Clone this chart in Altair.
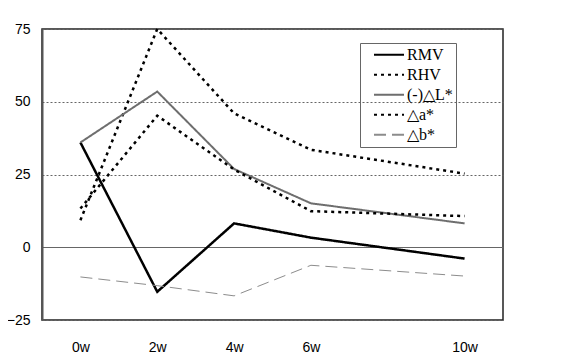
import altair as alt
import pandas as pd

weeks = [0, 2, 4, 6, 10]
week_labels = ["0w", "2w", "4w", "6w", "10w"]
series_names = ["RMV", "RHV", "(-)△L*", "△a*", "△b*"]
rmv = [36, -15.3, 8.2, 3.3, -3.9]
rhv = [9.3, 75, 46, 33.5, 25.3]
dl = [36, 53.5, 26.9, 15.1, 8.2]
da = [13.3, 45.2, 26.7, 12.4, 10.7]
db = [-10.2, -13.2, -16.7, -6.2, -9.9]
y_ticks = [-25, 0, 25, 50, 75]

colors = ["#000000", "#000000", "#6e6e6e", "#000000", "#8c8c8c"]
dashes = [[1, 0], [3, 4], [1, 0], [3, 4], [12, 6]]
widths = [2.5, 2.5, 2, 2.5, 1]

rows = []
for name, vals, wd in zip(series_names, [rmv, rhv, dl, da, db], widths):
    for w, v in zip(weeks, vals):
        rows.append({"week": w, "value": v, "series": name, "sw": wd})
df = pd.DataFrame(rows)

label_expr = "{" + ",".join(f"'{w}':'{l}'" for w, l in zip(weeks, week_labels)) + "}[datum.value]"

legend = alt.Legend(
    title=None, orient="none", legendX=318, legendY=14,
    strokeColor="#666666", padding=3, labelFont="Liberation Serif",
    labelFontSize=16, labelColor="#000000", symbolSize=900,
    symbolType="stroke", symbolStrokeWidth=2, rowPadding=2, labelOffset=2,
    clipHeight=17.5, symbolOffset=10,
)

chart = alt.Chart(df).mark_line().encode(
    x=alt.X("week:Q", scale=alt.Scale(domain=[-1, 11], nice=False, zero=False),
            axis=alt.Axis(values=weeks, labelExpr=label_expr, title=None, grid=False,
                          ticks=False, domain=False, labelFont="Liberation Sans",
                          labelFontSize=14, labelColor="#000000", labelPadding=20)),
    y=alt.Y("value:Q", scale=alt.Scale(domain=[-25, 75], nice=False),
            axis=alt.Axis(values=y_ticks, title=None, ticks=False, domain=True,
                          domainColor="#555555", domainWidth=2,
                          labelFont="Liberation Sans", labelFontSize=14,
                          labelColor="#000000", labelPadding=12,
                          gridColor="#666666",
                          gridDash=alt.condition(alt.datum.value == 0, alt.value([]), alt.value([2, 2])),
                          gridWidth=1)),
    color=alt.Color("series:N", scale=alt.Scale(domain=series_names, range=colors), legend=legend),
    strokeDash=alt.StrokeDash("series:N", scale=alt.Scale(domain=series_names, range=dashes), legend=legend),
    strokeWidth=alt.StrokeWidth("sw:Q", scale=None, legend=None),
).properties(
    width=461, height=291,
    autosize=alt.AutoSizeParams(type="none"),
    padding={"left": 34, "top": 21, "right": 60, "bottom": 34},
).configure_view(stroke="#222222", strokeWidth=1.5)

chart.save("out.html", embed_options={"renderer": "svg", "actions": False})
